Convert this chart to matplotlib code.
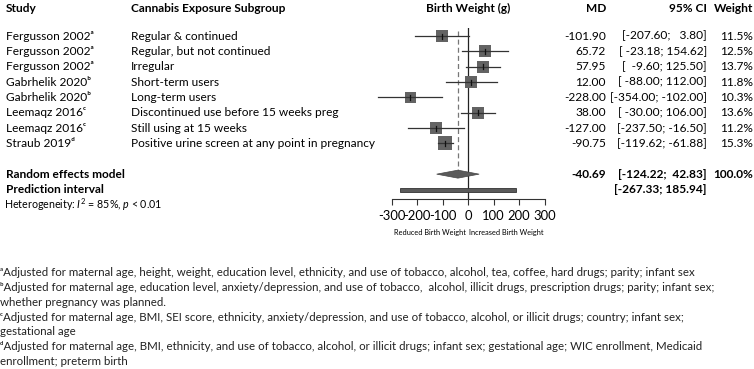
import numpy as np
import matplotlib
matplotlib.use('Agg')
import matplotlib.pyplot as plt
from matplotlib.patches import Polygon, Rectangle

plt.rcParams['font.family'] = ['Lato', 'DejaVu Sans']
plt.rcParams['mathtext.fontset'] = 'custom'
plt.rcParams['mathtext.rm'] = 'Lato'
plt.rcParams['mathtext.it'] = 'Lato:italic'
plt.rcParams['mathtext.bf'] = 'Lato:bold'

# data
studies = ['Fergusson 2002', 'Fergusson 2002', 'Fergusson 2002', 'Gabrhelik 2020',
           'Gabrhelik 2020', 'Leemaqz 2016', 'Leemaqz 2016', 'Straub 2019']
marks = ['ᵃ', 'ᵃ', 'ᵃ', 'ᵇ', 'ᵇ', 'ᶜ', 'ᶜ', 'ᵈ']
subgroups = ['Regular & continued', 'Regular, but not continued', 'Irregular',
             'Short-term users', 'Long-term users',
             'Discontinued use before 15 weeks preg', 'Still using at 15 weeks',
             'Positive urine screen at any point in pregnancy']
md = [-101.90, 65.72, 57.95, 12.00, -228.00, 38.00, -127.00, -90.75]
lower = [-207.60, -23.18, -9.60, -88.00, -354.00, -30.00, -237.50, -119.62]
upper = [3.80, 154.62, 125.50, 112.00, -102.00, 106.00, -16.50, -61.88]
weights = [11.5, 12.5, 13.7, 11.8, 10.3, 13.6, 11.2, 15.3]

re_md, re_lo, re_hi = -40.69, -124.22, 42.83
pi_lo, pi_hi = -267.33, 185.94
ticks = [-300, -200, -100, 0, 100, 200, 300]

footnotes = [
    'ᵃAdjusted for maternal age, height, weight, education level, ethnicity, and use of tobacco, alcohol, tea, coffee, hard drugs; parity; infant sex',
    'ᵇAdjusted for maternal age, education level, anxiety/depression, and use of tobacco,  alcohol, illicit drugs, prescription drugs; parity; infant sex;',
    'whether pregnancy was planned.',
    'ᶜAdjusted for maternal age, BMI, SEI score, ethnicity, anxiety/depression, and use of tobacco, alcohol, or illicit drugs; country; infant sex;',
    'gestational age',
    'ᵈAdjusted for maternal age, BMI, ethnicity, and use of tobacco, alcohol, or illicit drugs; infant sex; gestational age; WIC enrollment, Medicaid',
    'enrollment; preterm birth',
]

W, H = 754, 369
FS = 8.6


def row_y(i):
    return 36 + 15.35 * i


def ci_str(lo, hi):
    return f'[{lo:7.2f}; {hi:6.2f}]'


fig = plt.figure(figsize=(W / 100, H / 100), dpi=100)

# background axes in pixel units for the text columns
bg = fig.add_axes([0, 0, 1, 1])
bg.set_xlim(0, W)
bg.set_ylim(H, 0)
bg.axis('off')

# forest axes: x in data units, y in pixels
x0, x1, ytop, ybot = 392, 544.5, 28, 199
ax = fig.add_axes([x0 / W, 1 - ybot / H, (x1 - x0) / W, (ybot - ytop) / H])
ax.set_xlim(-300, 300)
ax.set_ylim(ybot, ytop)
ax.patch.set_alpha(0)
for s in ['top', 'left', 'right']:
    ax.spines[s].set_visible(False)
ax.spines['bottom'].set_bounds(-300, 300)
ax.spines['bottom'].set_linewidth(0.8)
ax.spines['bottom'].set_color('#333333')
ax.set_yticks([])
ax.set_xticks(ticks)
ax.set_xticklabels([str(t) for t in ticks], fontsize=9.4)
ax.tick_params(axis='x', direction='out', length=4, width=0.8, color='#333333', pad=4)

# headers
hy = 8
bg.text(6, hy, 'Study', fontsize=FS, fontweight='bold', va='center')
bg.text(131, hy, 'Cannabis Exposure Subgroup', fontsize=FS, fontweight='bold', va='center')
bg.text(468, hy, 'Birth Weight (g)', fontsize=FS, fontweight='bold', va='center', ha='center')
bg.text(606, hy, 'MD', fontsize=FS, fontweight='bold', va='center', ha='right')
bg.text(707, hy, '95% CI', fontsize=FS, fontweight='bold', va='center', ha='right')
bg.text(753, hy, 'Weight', fontsize=FS, fontweight='bold', va='center', ha='right')

# study rows
for i in range(len(studies)):
    y = row_y(i)
    bg.text(6, y, studies[i] + marks[i], fontsize=FS, va='center')
    bg.text(131, y, subgroups[i], fontsize=FS, va='center')
    bg.text(606, y, f'{md[i]:.2f}', fontsize=FS, va='center', ha='right')
    bg.text(707, y, ci_str(lower[i], upper[i]), fontsize=FS, va='center', ha='right')
    bg.text(753, y, f'{weights[i]:.1f}%', fontsize=FS, va='center', ha='right')

    side = 11 * np.sqrt(weights[i] / 10.3)
    ax.scatter(md[i], y, marker='s', s=(side * 0.72) ** 2, color='#636363',
               linewidths=0, zorder=3, clip_on=False)
    ax.plot([lower[i], upper[i]], [y, y], color='#333333', lw=0.9, zorder=4,
            clip_on=False)
    ax.plot([md[i], md[i]], [y - 2.5, y + 2.5], color='#111111', lw=0.9, zorder=5)

# summary rows
yre = row_y(9)
ypi = row_y(10)
yhet = row_y(11)
bg.text(6, yre, 'Random effects model', fontsize=FS, fontweight='bold', va='center')
bg.text(606, yre, f'{re_md:.2f}', fontsize=FS, fontweight='bold', va='center', ha='right')
bg.text(707, yre, ci_str(re_lo, re_hi), fontsize=FS, fontweight='bold', va='center', ha='right')
bg.text(753, yre, '100.0%', fontsize=FS, fontweight='bold', va='center', ha='right')
bg.text(6, ypi, 'Prediction interval', fontsize=FS, fontweight='bold', va='center')
bg.text(707, ypi, ci_str(pi_lo, pi_hi), fontsize=FS, fontweight='bold', va='center', ha='right')
bg.text(4, yhet, r'Heterogeneity: $I^2$ = 85%, $p$ < 0.01', fontsize=7.7, va='center')

ax.add_patch(Polygon([(re_lo, yre), (re_md, yre - 4), (re_hi, yre), (re_md, yre + 4)],
                     closed=True, facecolor='#5a5a5a', edgecolor='#444444', lw=0.5, zorder=3))
ax.add_patch(Rectangle((pi_lo, ypi - 2), pi_hi - pi_lo, 4, facecolor='#5a5a5a',
                       edgecolor='#333333', lw=0.6, zorder=3))

# reference lines
ax.axvline(0, color='#222222', lw=0.9, zorder=2)
ax.plot([re_md, re_md], [31, yre - 3], color='#777777', lw=0.9, ls=(0, (4, 2.5)), zorder=1)

# axis annotations
ax.text(-150, 233, 'Reduced Birth Weight', fontsize=5.3, ha='center', va='center')
ax.text(150, 233, 'Increased Birth Weight', fontsize=5.3, ha='center', va='center')

# footnotes
for k, line in enumerate(footnotes):
    bg.text(0, 273 + 14.7 * k, line, fontsize=8.25, va='center', color='#222222')

fig.savefig('out.png', dpi=100)
